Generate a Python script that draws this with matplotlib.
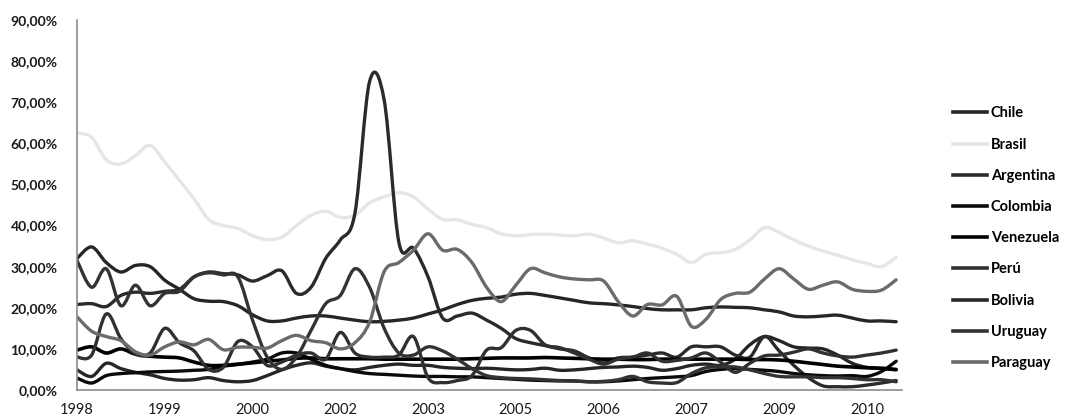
import matplotlib
matplotlib.use("Agg")
import matplotlib.pyplot as plt
from matplotlib.path import Path
from matplotlib.patches import PathPatch
from matplotlib.lines import Line2D
import numpy as np

plt.rcParams['font.family'] = ['Lato', 'DejaVu Sans']

# x positions: 6 points per tick label
year_labels = ['1998', '1999', '2000', '2002', '2003', '2005', '2006', '2007', '2009', '2010']

chile = [4.9, 3.3, 6.5, 5.2, 4.3, 3.7, 2.8, 2.4, 2.5, 3.0, 2.3, 2.0, 2.3, 3.5, 4.9, 6.0, 6.6, 5.8, 5.2, 4.9,
         5.5, 6.0, 6.3, 6.0, 6.0, 5.5, 5.3, 5.2, 5.3, 5.1, 4.9, 5.0, 5.3, 4.8, 4.9, 5.2, 5.5, 5.6, 5.8, 5.5,
         4.8, 5.2, 6.0, 6.3, 6.0, 7.5, 11.0, 13.0, 12.0, 10.5, 10.2, 10.0, 8.5, 6.5, 5.5, 5.2, 4.9]
brasil = [62.5, 61.5, 56.0, 55.0, 57.0, 59.5, 55.5, 51.0, 46.5, 41.5, 40.0, 39.3, 37.5, 36.6, 37.2, 40.0, 42.5, 43.5, 42.0, 42.5,
          45.5, 47.0, 48.0, 47.0, 44.0, 41.5, 41.4, 40.3, 39.5, 38.0, 37.5, 37.8, 37.9, 37.7, 37.5, 37.9, 37.0, 35.8, 36.3, 35.5,
          34.5, 33.0, 31.0, 33.0, 33.4, 34.2, 36.5, 39.5, 38.3, 36.5, 35.0, 33.8, 32.8, 31.7, 30.8, 30.0, 32.3]
argentina = [20.8, 21.0, 20.3, 23.0, 23.8, 23.5, 24.0, 24.5, 27.5, 28.7, 28.3, 28.0, 26.5, 27.8, 29.0, 23.5, 25.0, 32.0, 36.5, 43.0,
             75.0, 70.5, 36.0, 34.5, 27.5, 17.5, 18.0, 18.7, 17.0, 15.0, 12.5, 11.5, 10.8, 10.0, 9.5, 7.8, 6.6, 7.8, 8.0, 8.5,
             9.0, 8.0, 10.5, 10.5, 10.5, 8.5, 8.0, 13.0, 9.5, 6.0, 3.0, 1.0, 0.8, 0.8, 1.2, 1.7, 2.3]
colombia = [2.9, 1.7, 3.5, 4.0, 4.2, 4.4, 4.5, 4.6, 4.8, 5.0, 5.8, 6.2, 6.8, 7.5, 9.0, 9.0, 7.5, 6.0, 5.2, 4.5,
            4.0, 3.8, 3.6, 3.4, 3.3, 3.3, 3.2, 3.2, 3.0, 2.8, 2.6, 2.4, 2.3, 2.2, 2.2, 2.0, 2.0, 2.2, 2.5, 2.8,
            3.0, 3.2, 3.5, 4.5, 5.0, 5.2, 5.0, 4.8, 4.5, 4.0, 3.7, 3.5, 3.4, 3.5, 3.3, 4.5, 7.0]
venezuela = [9.7, 10.5, 9.0, 10.0, 8.7, 8.2, 8.0, 7.8, 6.8, 6.0, 6.0, 6.3, 6.6, 7.0, 7.3, 7.7, 7.8, 7.6, 7.6, 7.6,
             7.6, 7.5, 7.5, 7.5, 7.5, 7.5, 7.5, 7.6, 7.7, 7.8, 7.8, 7.8, 7.9, 7.8, 7.7, 7.6, 7.5, 7.5, 7.4, 7.4,
             7.5, 7.5, 7.5, 7.5, 7.5, 7.5, 7.4, 7.4, 7.3, 7.0, 6.6, 6.2, 5.8, 5.6, 5.4, 5.3, 5.0]
peru = [8.0, 8.5, 18.5, 12.5, 8.8, 9.0, 15.0, 11.5, 9.5, 5.0, 5.5, 11.8, 10.5, 6.0, 6.8, 8.5, 9.0, 7.5, 14.0, 9.0,
        8.0, 8.0, 8.5, 13.0, 3.0, 1.8, 2.3, 3.5, 9.7, 10.3, 14.5, 14.5, 11.0, 10.3, 9.0, 7.5, 6.3, 7.5, 8.0, 9.0,
        7.0, 7.2, 7.8, 9.0, 6.8, 4.3, 6.5, 8.3, 8.5, 9.2, 10.0, 9.0, 8.3, 8.0, 8.5, 9.0, 9.7]
bolivia = [32.0, 34.8, 31.0, 28.7, 30.3, 30.0, 26.7, 24.5, 22.2, 21.6, 21.5, 20.5, 18.3, 16.8, 16.8, 17.5, 18.0, 18.0, 17.5, 17.0,
           16.6, 16.7, 17.0, 17.5, 18.5, 19.5, 20.8, 21.8, 22.3, 22.6, 23.3, 23.5, 23.0, 22.4, 21.8, 21.2, 21.0, 20.7, 20.3, 19.8,
           19.5, 19.5, 19.5, 20.0, 20.2, 20.1, 20.0, 19.5, 19.0, 18.0, 17.8, 18.0, 18.2, 17.5, 16.8, 16.8, 16.6]
uruguay = [31.5, 25.0, 29.5, 20.5, 25.5, 20.5, 23.5, 24.0, 27.5, 28.5, 28.0, 27.5, 17.0, 8.0, 5.0, 8.0, 14.5, 21.0, 23.0, 29.5,
           25.0, 15.0, 9.0, 8.5, 10.5, 9.5, 7.5, 5.2, 3.5, 3.0, 2.8, 2.7, 2.5, 2.3, 2.2, 2.0, 2.1, 2.5, 3.3, 2.0,
           1.7, 1.8, 4.0, 5.4, 5.6, 5.6, 4.9, 4.0, 3.3, 3.2, 3.2, 3.0, 3.0, 2.8, 2.5, 2.5, 2.0]
paraguay = [17.8, 14.3, 13.0, 12.0, 9.3, 8.5, 10.5, 11.7, 11.0, 12.3, 9.8, 10.4, 10.4, 10.2, 12.0, 13.3, 12.0, 11.5, 10.0, 11.5,
            16.5, 28.8, 31.0, 34.0, 38.0, 34.0, 34.2, 31.0, 25.0, 21.5, 25.5, 29.5, 28.5, 27.5, 27.0, 26.8, 26.5, 21.5, 18.0, 20.8,
            20.7, 22.8, 15.5, 17.2, 22.0, 23.5, 23.8, 27.0, 29.5, 27.0, 24.5, 25.5, 26.3, 24.5, 24.0, 24.3, 26.8]

series = [
    ('Chile', chile, '#262626'),
    ('Brasil', brasil, '#e6e6e6'),
    ('Argentina', argentina, '#2a2a2a'),
    ('Colombia', colombia, '#0a0a0a'),
    ('Venezuela', venezuela, '#000000'),
    ('Perú', peru, '#303030'),
    ('Bolivia', bolivia, '#262626'),
    ('Uruguay', uruguay, '#333333'),
    ('Paraguay', paraguay, '#6b6b6b'),
]


def smooth_path(xs, ys):
    # bezier segments through the points (Catmull-Rom style tangents)
    p = np.column_stack([xs, ys]).astype(float)
    ext = np.vstack([p[0], p, p[-1]])
    verts = [p[0]]
    codes = [Path.MOVETO]
    for i in range(len(p) - 1):
        p0, p1, p2, p3 = ext[i], ext[i + 1], ext[i + 2], ext[i + 3]
        c1 = p1 + (p2 - p0) / 6.0
        c2 = p2 - (p3 - p1) / 6.0
        verts += [c1, c2, p2]
        codes += [Path.CURVE4] * 3
    return Path(verts, codes)


fig = plt.figure(figsize=(10.66, 4.18), dpi=100)
ax = fig.add_axes([77 / 1066, 28 / 418, 825 / 1066, 370 / 418])

x = np.arange(len(brasil))
handles = []
for name, vals, col in series:
    lw = 2.6 if name == 'Venezuela' else 2.4
    patch = PathPatch(smooth_path(x, vals), facecolor='none', edgecolor=col, lw=lw,
                      capstyle='round', joinstyle='round')
    ax.add_patch(patch)
    handles.append(Line2D([], [], color=col, lw=2.6, label=name))

ax.set_xlim(0, 56.4)
ax.set_ylim(0, 90)
ax.set_yticks(np.arange(0, 91, 10))
ax.set_yticklabels([('%.2f%%' % v).replace('.', ',') for v in np.arange(0, 91, 10)],
                   fontsize=10, fontweight='bold', color='#1a1a1a')
ax.set_xticks(np.arange(0, 55, 6))
ax.set_xticklabels(year_labels, fontsize=10.5, color='#1a1a1a')
ax.tick_params(axis='both', length=0)
ax.tick_params(axis='y', pad=14)
ax.tick_params(axis='x', pad=9)

for s in ['top', 'right']:
    ax.spines[s].set_visible(False)
for s in ['left', 'bottom']:
    ax.spines[s].set_color('#8c8c8c')
    ax.spines[s].set_linewidth(1.2)

fig.legend(handles=handles, loc='center left', bbox_to_anchor=(953 / 1066, 0.43),
           frameon=False, prop={'weight': 'bold', 'size': 10.5},
           handlelength=2.3, handletextpad=0.3, labelspacing=1.18, borderpad=0, borderaxespad=0)

fig.savefig('out.png', dpi=100)
